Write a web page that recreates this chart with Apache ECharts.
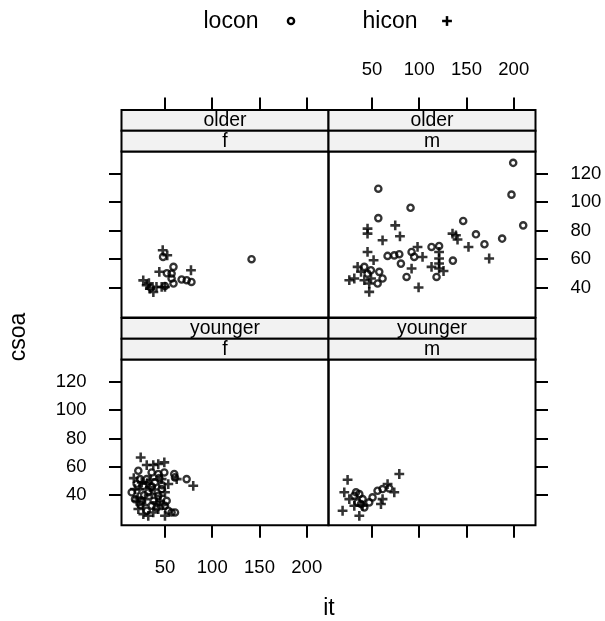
<!DOCTYPE html>
<html>
<head>
<meta charset="utf-8">
<script src="https://cdn.jsdelivr.net/npm/echarts@6/dist/echarts.min.js"></script>
<style>
  html, body { margin: 0; padding: 0; background: #fff; }
  #chart { width: 605px; height: 621px; }
</style>
</head>
<body>
<div id="chart"></div>
<script>
// tick values
const xTicks = [50, 100, 150, 200];
const yTicks = [40, 60, 80, 100, 120];

// it vs csoa, one pair of arrays per panel
const olderF_locon = [[141.6,59.9],[48,61.5],[59,54.5],[57,49.8],[57,46.3],[59,42.8],[67.6,45.6],[73,45.1],[78,43.9],[52,50],[35,40],[50,41]];
const olderF_hicon = [[47.6,66.2],[52.4,62.6],[44,51],[77.5,52.1],[27,45],[30.6,41.6],[34,39.2],[37.7,36.8],[41,40.4],[46.5,40.4],[50,40.4],[33,43]];

const olderM_locon = [[199.4,127.7],[197.6,105.3],[210,83.7],[56.7,109.5],[90.8,96.1],[56.7,88.8],[146.5,86.8],[160,77.4],[169,70.4],[187.7,74.4],[135.6,58.9],[113,68.5],[121,69.2],[86.6,47.4],[118.3,47.4],[66.5,62.2],[73.6,62.6],[78.9,63.4],[80.6,56.8],[91.9,65],[94.7,61.5],[41.9,54.5],[48.9,52.1],[57.7,51],[61.2,46.3],[56,42.8],[45.3,49.8]];
const olderM_hicon = [[45.3,81.4],[45.3,77.9],[61.2,73.2],[74.6,83.7],[79.6,76],[45.3,65],[51.7,59.2],[98.2,68.5],[103.5,61.5],[91.9,53.3],[99.3,40],[121,65],[121,60.4],[121,56.8],[121,53.3],[113,54.5],[125.7,51.6],[135.2,77.9],[138.8,76.7],[140.5,73.7],[152.1,68.5],[174,60.4],[26,45.1],[31.3,46.3],[34.8,54.5],[38.4,51],[41.9,45.1],[47.1,42.8],[47.1,36.9],[49,46.3]];

const youngerF_locon = [[21.8,57.2],[35.9,56],[42.9,54.9],[49.3,56],[59.8,54.9],[60.6,52.5],[72.9,51.3],[14.8,42],[18.3,37.2],[51.8,36],[50,32.5],[41.2,31.4],[53.5,29],[60.6,27.8],[27.1,46.6],[32.3,42],[39.4,49],[46.5,44.3],[25.4,36],[35.9,32.5],[30.7,51.3],[23.6,51.3],[42.9,39.6],[30.7,29],[57,27.8],[20,48],[28,40],[36,46],[44,52],[24,33],[38,36],[47,47]];
const youngerF_hicon = [[24.3,66.6],[30.7,61.2],[37.6,61.2],[42.9,61.9],[49.3,63.1],[62.4,51.3],[79.9,46.6],[53.5,47.8],[50,42],[21.8,30.2],[27.1,26.6],[32.3,25.4],[37.6,27.8],[42.9,30.2],[50,25.4],[18.3,44.3],[25.4,49],[28.9,37.2],[35.9,40.7],[41.2,34.9],[46.5,51.3],[21.1,38.4],[34.1,45.5],[44.7,39.6],[17,52],[23,44],[31,48],[39,44],[45,36],[27,33],[35,51],[48,33],[20,36]];

const youngerM_locon = [[55.9,43.1],[61.2,44.3],[68.3,44.8],[50.6,38.4],[47.1,34.9],[36.6,40.7],[31.3,39.6],[40.1,37.2],[34.8,34.9],[41.9,31.4],[33.1,42],[38.4,33.7]];
const youngerM_hicon = [[24.2,50.8],[78.9,54.9],[66.5,47.8],[73.6,42],[61.2,37.2],[59.5,33.7],[20.7,42],[18.9,29],[36.6,25.4],[31.3,32.5],[26,37.2],[40.1,32.5]];

const FONT = '"Liberation Sans", Arial, Helvetica, sans-serif';
const PLUS = 'path://M-1.3,-5H1.3V-1.3H5V1.3H1.3V5H-1.3V1.3H-5V-1.3H-1.3Z';

// panel geometry (lattice layout, 2 x 2)
const colX = [121.5, 328.5];
const panelW = 207;
const stripH = 20.8;
const rows = [
  { stripTop: 110, top: 151.6, h: 166 },
  { stripTop: 318, top: 359.6, h: 165.6 }
];

const panels = [
  { row: 0, col: 0, age: 'older',   sex: 'f', lo: olderF_locon,   hi: olderF_hicon },
  { row: 0, col: 1, age: 'older',   sex: 'm', lo: olderM_locon,   hi: olderM_hicon },
  { row: 1, col: 0, age: 'younger', sex: 'f', lo: youngerF_locon, hi: youngerF_hicon },
  { row: 1, col: 1, age: 'younger', sex: 'm', lo: youngerM_locon, hi: youngerM_hicon }
];

const grid = [], xAxis = [], yAxis = [], series = [], graphic = [];

panels.forEach((p, i) => {
  const r = rows[p.row];
  const left = colX[p.col];
  grid.push({ left: left, top: r.top, width: panelW, height: r.h,
    show: true, borderColor: '#000', borderWidth: 2, backgroundColor: 'transparent' });

  const top = p.row === 0;
  // x axis: top row draws above the strips, bottom row below
  xAxis.push({
    type: 'value', gridIndex: i, min: 4, max: 223,
    position: top ? 'top' : 'bottom',
    offset: top ? r.top - r.stripTop : 0,
    splitLine: { show: false }, axisLine: { show: false },
    axisTick: { show: true, length: 12.5, customValues: xTicks, lineStyle: { color: '#000', width: 2 } },
    axisLabel: { show: (top && p.col === 1) || (!top && p.col === 0), customValues: xTicks,
      margin: top ? 31 : 33, color: '#000', fontSize: 18.5, fontFamily: FONT }
  });
  yAxis.push({
    type: 'value', gridIndex: i, min: 18.8, max: 135.6,
    position: p.col === 0 ? 'left' : 'right',
    splitLine: { show: false }, axisLine: { show: false },
    axisTick: { show: true, length: 12.5, customValues: yTicks, lineStyle: { color: '#000', width: 2 } },
    axisLabel: { show: (top && p.col === 1) || (!top && p.col === 0), customValues: yTicks,
      margin: 35, color: '#000', fontSize: 18.5, fontFamily: FONT }
  });

  series.push({
    name: 'locon', type: 'scatter', xAxisIndex: i, yAxisIndex: i, data: p.lo,
    symbol: 'circle', symbolSize: 6.2,
    itemStyle: { color: 'rgba(0,0,0,0)', borderColor: '#000', borderWidth: 2.4 }
  });
  series.push({
    name: 'hicon', type: 'scatter', xAxisIndex: i, yAxisIndex: i, data: p.hi,
    symbol: PLUS, symbolSize: 9.8,
    itemStyle: { color: '#000' }
  });

  // strips: age on top, sex below
  [p.age, p.sex].forEach((label, k) => {
    const y0 = r.stripTop + k * stripH;
    graphic.push({ type: 'rect', shape: { x: left, y: y0, width: panelW, height: stripH },
      style: { fill: '#f2f2f2', stroke: '#000', lineWidth: 2 } });
    graphic.push({ type: 'text', style: { text: label, x: left + panelW / 2, y: y0 + stripH / 2 + 0.5,
      fill: '#000', font: '19.4px ' + FONT, textAlign: 'center', textVerticalAlign: 'middle' } });
  });
});

// key above the panels
graphic.push(
  { type: 'text', style: { text: 'locon', x: 231, y: 22, fill: '#000', font: '23px ' + FONT, textAlign: 'center', textVerticalAlign: 'middle' } },
  { type: 'circle', shape: { cx: 291, cy: 21, r: 3.1 }, style: { fill: 'none', stroke: '#000', lineWidth: 2.4 } },
  { type: 'text', style: { text: 'hicon', x: 390, y: 22, fill: '#000', font: '23px ' + FONT, textAlign: 'center', textVerticalAlign: 'middle' } },
  { type: 'line', shape: { x1: 442.1, y1: 21, x2: 451.9, y2: 21 }, style: { stroke: '#000', lineWidth: 2.5 } },
  { type: 'line', shape: { x1: 447, y1: 16.1, x2: 447, y2: 25.9 }, style: { stroke: '#000', lineWidth: 2.5 } },
  // axis titles
  { type: 'text', x: 18.5, y: 337, rotation: Math.PI / 2,
    style: { text: 'csoa', x: 0, y: 0, fill: '#000', font: '23px ' + FONT, textAlign: 'center', textVerticalAlign: 'middle' } },
  { type: 'text', style: { text: 'it', x: 329, y: 609, fill: '#000', font: '23px ' + FONT, textAlign: 'center', textVerticalAlign: 'middle' } }
);

const chart = echarts.init(document.getElementById('chart'), null, { renderer: 'canvas' });
chart.setOption({
  animation: false,
  backgroundColor: '#fff',
  grid: grid,
  xAxis: xAxis,
  yAxis: yAxis,
  series: series,
  graphic: graphic
});
</script>
</body>
</html>
